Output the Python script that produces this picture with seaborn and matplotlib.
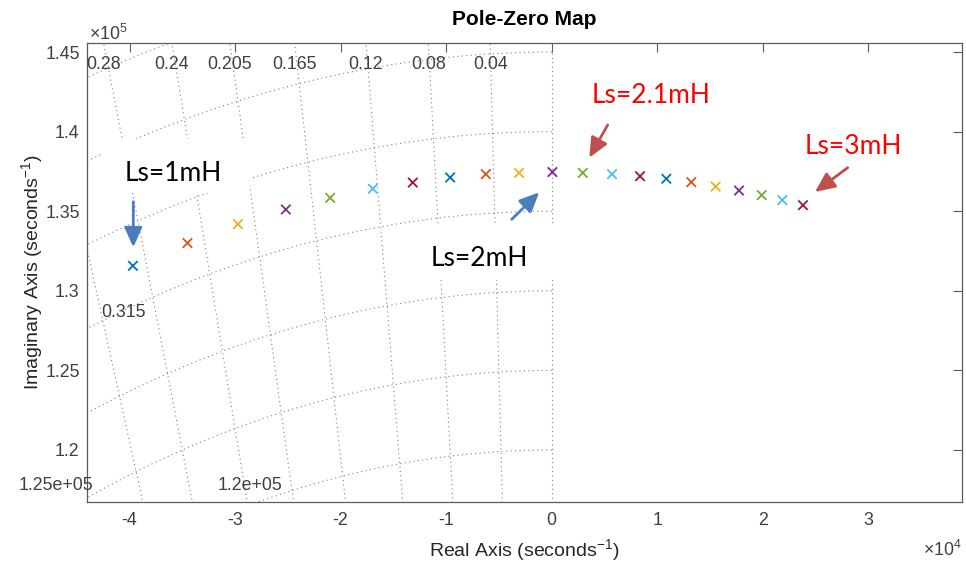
import numpy as np
import pandas as pd
import matplotlib
matplotlib.use("Agg")
import matplotlib.pyplot as plt
import matplotlib.transforms as mtransforms
from matplotlib.patches import Rectangle
import seaborn as sns

# ---------------- data ----------------
real_part = [-39680, -34510, -29730, -25190, -20990, -16950, -13160, -9620,
             -6240, -3090, 70, 2950, 5720, 8370, 10860, 13230, 15540,
             17750, 19900, 21850, 23810]
imag_part = [131570, 133000, 134190, 135110, 135840, 136410, 136800, 137120,
             137330, 137410, 137460, 137410, 137330, 137200, 137040, 136830,
             136550, 136300, 136010, 135700, 135380]
matlab_colors = ["#0072BD", "#D95319", "#EDB120", "#7E2F8E", "#77AC30",
                 "#4DBEEE", "#A2142F"]
point_colors = [matlab_colors[i % 7] for i in range(len(real_part))]

# s-plane grid (damping ratios and natural frequencies)
zeta_lines = [0.315, 0.28, 0.24, 0.205, 0.165, 0.12, 0.08, 0.04, 0.0]
zeta_top_labels = ["0.28", "0.24", "0.205", "0.165", "0.12", "0.08", "0.04"]
zeta_top_values = [0.28, 0.24, 0.205, 0.165, 0.12, 0.08, 0.04]
wn_arcs = [115000, 120000, 125000, 130000, 135000, 140000, 145000, 150000, 155000]

x_ticks = [-4, -3, -2, -1, 0, 1, 2, 3]          # x 1e4
y_ticks = [1.2, 1.25, 1.3, 1.35, 1.4, 1.45]     # x 1e5

annotations = ["Ls=1mH", "Ls=2mH", "Ls=2.1mH", "Ls=3mH"]

# ---------------- style ----------------
sns.set_style("white")
plt.rcParams["font.family"] = ["Liberation Sans", "DejaVu Sans"]
plt.rcParams["mathtext.fontset"] = "custom"
plt.rcParams["mathtext.rm"] = "Liberation Sans"
plt.rcParams["mathtext.it"] = "Liberation Sans:italic"
plt.rcParams["mathtext.bf"] = "Liberation Sans:bold"

TXT = "#404040"
SPINE = "#5a5a5a"
GRID = "#808080"

W, H = 966, 564
fig = plt.figure(figsize=(W / 100, H / 100), dpi=100)
axL, axR, axT, axB = 87.3, 961.7, 43.3, 501.7
ax = fig.add_axes([axL / W, 1 - axB / H, (axR - axL) / W, (axB - axT) / H])

xlim = (-44000, 38850)
ylim = (116750, 145550)

# grid: damping rays
for z in zeta_lines:
    r = np.array([0.9e5, 1.7e5])
    ax.plot(-z * r, np.sqrt(1 - z * z) * r, color=GRID, lw=0.8,
            ls=(0, (1, 3)), zorder=1)
# grid: natural-frequency arcs (left half plane)
th = np.linspace(np.pi / 2, np.pi, 600)
for wn in wn_arcs:
    ax.plot(wn * np.cos(th), wn * np.sin(th), color=GRID, lw=0.8,
            ls=(0, (1, 3)), zorder=1)

# white text boxes hiding the grid
ax.add_patch(Rectangle((0.018, 0.6734), 0.168, 0.1176, transform=ax.transAxes,
                       fc="white", ec="none", zorder=2))
ax.add_patch(Rectangle((0.3635, 0.484), 0.1727, 0.120, transform=ax.transAxes,
                       fc="white", ec="none", zorder=2))

# poles
df = pd.DataFrame({"re": real_part, "im": imag_part,
                   "pole": [f"p{i}" for i in range(len(real_part))]})
sns.scatterplot(data=df, x="re", y="im", hue="pole", palette=point_colors,
                marker="x", s=46, linewidth=1.3, legend=False, ax=ax, zorder=4)

ax.set_xlim(*xlim)
ax.set_ylim(*ylim)
ax.set_xticks([v * 1e4 for v in x_ticks])
ax.set_xticklabels([f"{v:g}" for v in x_ticks])
ax.set_yticks([v * 1e5 for v in y_ticks])
ax.set_yticklabels([f"{v:g}" for v in y_ticks])
ax.tick_params(axis="both", direction="in", length=6.5, width=0.8,
               top=True, right=True, labelsize=12.75, labelcolor=TXT,
               color=SPINE)
ax.tick_params(axis="x", pad=7.5)
ax.tick_params(axis="y", pad=5.5)
for sp in ax.spines.values():
    sp.set_color(SPINE)
    sp.set_linewidth(0.9)
ax.set_xlabel("")
ax.set_ylabel("")

# grid labels
blend = mtransforms.blended_transform_factory(ax.transData, ax.transAxes)
for z, lab in zip(zeta_top_values, zeta_top_labels):
    xt = -z / np.sqrt(1 - z * z) * ylim[1]
    ax.text(xt, 0.9433, lab, transform=blend, ha="center", va="baseline",
            fontsize=12.75, color=TXT, zorder=3)
ax.text(0.0417, 0.4036, "0.315", transform=ax.transAxes, ha="center",
        va="baseline", fontsize=12.75, color=TXT, zorder=3)
ax.text(-0.0358, 0.0255, "1.25e+05", transform=ax.transAxes, ha="center",
        va="baseline", fontsize=12.75, color=TXT, zorder=3, clip_on=False)
ax.text(0.186, 0.0255, "1.2e+05", transform=ax.transAxes, ha="center",
        va="baseline", fontsize=12.75, color=TXT, zorder=3)

# axis labels / title / exponents
ax.text(0.5, -0.1195, r"Real Axis (seconds$^{-1}$)", transform=ax.transAxes,
        ha="center", va="baseline", fontsize=14, color="#262626")
ax.text(-0.0632, 0.5, r"Imaginary Axis (seconds$^{-1}$)", transform=ax.transAxes,
        ha="center", va="center", rotation=90, fontsize=14, color="#262626")
ax.set_title("Pole-Zero Map", fontsize=15, fontweight="bold", pad=13,
             color="black")
fig.text(89 / W, 1 - 40 / H, r"$\times10^{5}$", ha="left", va="baseline",
         fontsize=12.75, color=TXT)
fig.text(962 / W, 1 - 556 / H, r"$\times10^{4}$", ha="right", va="baseline",
         fontsize=12.75, color=TXT)

# annotations
ann_font = ["Lato", "DejaVu Sans"]
ann_pos = [(0.0984, 0.6996), (0.4478, 0.5148), (0.6449, 0.8691), (0.8756, 0.7585)]
ann_col = ["black", "black", "#ff0000", "#ff0000"]
for t, (px, py), c in zip(annotations, ann_pos, ann_col):
    ax.text(px, py, t, transform=ax.transAxes, ha="center", va="baseline",
            fontsize=19, color=c, family=ann_font, zorder=5)

arrows = [((0.0526, 0.6545), (0.0526, 0.555), "#4a7ebb"),
          ((0.4854, 0.616), (0.5169, 0.675), "#4a7ebb"),
          ((0.5951, 0.8218), (0.5741, 0.7504), "#c0504d"),
          ((0.8696, 0.7286), (0.8322, 0.6756), "#c0504d")]
for tail, tip, c in arrows:
    ax.annotate("", xy=tip, xytext=tail, xycoords="axes fraction",
                textcoords="axes fraction",
                arrowprops=dict(arrowstyle="-|>,head_length=0.6,head_width=0.27",
                                mutation_scale=20, color=c, lw=2.0,
                                shrinkA=0, shrinkB=0),
                zorder=6)

fig.savefig("out.png", dpi=100, facecolor="white")
